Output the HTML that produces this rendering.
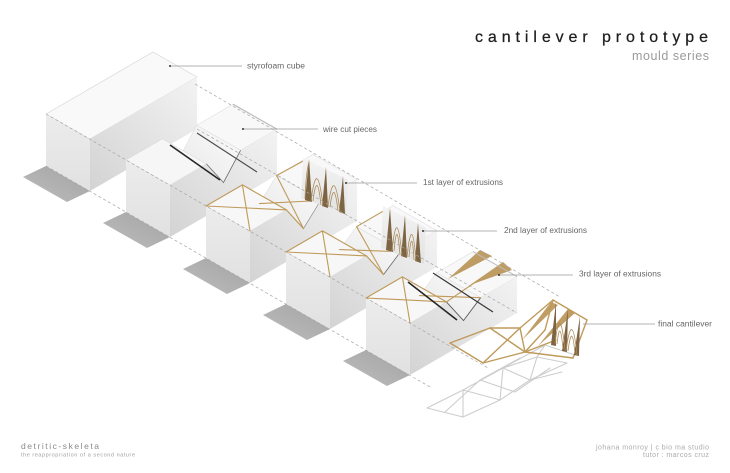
<!DOCTYPE html>
<html>
<head>
<meta charset="utf-8">
<style>
  html,body{margin:0;padding:0;background:#ffffff;}
  body{width:730px;height:473px;overflow:hidden;position:relative;}
  svg{position:absolute;left:0;top:0;}
  text{font-family:"Liberation Sans",sans-serif;}
</style>
</head>
<body>
<svg width="730" height="473" viewBox="0 0 730 473" xmlns="http://www.w3.org/2000/svg">
  <defs>
    <linearGradient id="gR" x1="0" y1="1" x2="1" y2="0">
      <stop offset="0" stop-color="#d3d3d3"/>
      <stop offset="1" stop-color="#f3f3f3"/>
    </linearGradient>
    <linearGradient id="gF" x1="0" y1="0" x2="0" y2="1">
      <stop offset="0" stop-color="#ececec"/>
      <stop offset="1" stop-color="#e1e1e1"/>
    </linearGradient>
    <linearGradient id="gS" x1="1" y1="0" x2="0" y2="1">
      <stop offset="0" stop-color="#a3a3a3"/>
      <stop offset="1" stop-color="#bdbdbd"/>
    </linearGradient>
    <linearGradient id="gW" x1="0" y1="0" x2="0" y2="1">
      <stop offset="0" stop-color="#f4f4f4"/>
      <stop offset="1" stop-color="#e2e2e2"/>
    </linearGradient>
    <linearGradient id="gB" x1="0" y1="1" x2="1" y2="0">
      <stop offset="0" stop-color="#e8e8e8"/>
      <stop offset="1" stop-color="#fbfbfb"/>
    </linearGradient>
  </defs>

  <!-- shadows -->
  <g fill="url(#gS)">
    <polygon points="46,166 23,177 67,202 90,191"/>
    <polygon points="46,166 23,177 67,202 90,191" transform="translate(80,46)"/>
    <polygon points="46,166 23,177 67,202 90,191" transform="translate(160,92)"/>
    <polygon points="46,166 23,177 67,202 90,191" transform="translate(240,138)"/>
    <polygon points="46,166 23,177 67,202 90,191" transform="translate(320,184)"/>
  </g>

  <!-- BOX 1 -->
  <g>
    <polygon points="46,114 90,139 197,77 153,52" fill="#f9f9f9" stroke="#d4d4d4" stroke-width="0.6"/>
    <polygon points="46,114 90,139 90,191 46,166" fill="url(#gF)"/>
    <polygon points="90,139 197,77 197,129 90,191" fill="url(#gR)"/>
  </g>

  <!-- BOX 2 -->
  <g transform="translate(80,46)">
    <polygon points="116.6,79.3 160.6,104.3 197,83.2 153,58.2" fill="#f8f8f8" stroke="#d4d4d4" stroke-width="0.5"/>
    <polygon points="99.5,111.6 143.5,136.6 160.6,104.3 116.6,79.3" fill="url(#gB)" stroke="#d8d8d8" stroke-width="0.5"/>
    <polygon points="46,114 90,139 126.4,117.9 82.4,92.9" fill="#f6f6f6" stroke="#d6d6d6" stroke-width="0.5"/>
    <polygon points="46,114 90,139 90,191 46,166" fill="url(#gF)"/>
    <polygon points="90,139 126.4,117.9 143.5,136.6 160.6,104.3 197,83.2 197,129 90,191" fill="url(#gR)"/>
    <polyline points="126.4,117.9 143.5,136.6 160.6,104.3" fill="none" stroke="#6a6a6a" stroke-width="0.8"/>
    <line x1="90" y1="99" x2="140" y2="134" stroke="#262626" stroke-width="1.6"/>
    <line x1="117" y1="87" x2="177" y2="126" stroke="#4a4a4a" stroke-width="1.1"/>
    <line x1="153" y1="58.2" x2="197" y2="83.2" stroke="#bdbdbd" stroke-width="1.2"/>
  </g>

  <!-- BOX 3 -->
  <g transform="translate(160,92)">
    <polygon points="116.6,83.5 160.6,108.5 197,87.4 153,62.4" fill="#f8f8f8" stroke="#d4d4d4" stroke-width="0.5"/>
    <polygon points="99.5,111.6 143.5,136.6 160.6,108.5 116.6,83.5" fill="url(#gB)" stroke="#d8d8d8" stroke-width="0.5"/>
    <polygon points="46,114 90,139 126.4,117.9 82.4,92.9" fill="#f7f7f7" stroke="#d6d6d6" stroke-width="0.5"/>
    <polygon points="46,114 90,139 90,191 46,166" fill="url(#gF)"/>
    <polygon points="90,139 126.4,117.9 143.5,136.6 160.6,108.5 197,87.4 197,129 90,191" fill="url(#gR)"/>
    <polyline points="126.4,117.9 143.5,136.6 160.6,108.5" fill="none" stroke="#8a8a8a" stroke-width="0.7"/>
    <g stroke="#bf9a5a" stroke-width="1.1" stroke-linecap="round" fill="none">
      <line x1="46" y1="114" x2="82.4" y2="92.9"/>
      <line x1="82.4" y1="92.9" x2="126.4" y2="117.9"/>
      <line x1="46" y1="114" x2="126.4" y2="117.9"/>
      <line x1="90" y1="139" x2="82.4" y2="92.9"/>
      <line x1="126.4" y1="117.9" x2="143.5" y2="136.6"/>
      <line x1="99.5" y1="111.6" x2="160.6" y2="108.5"/>
      <line x1="143.5" y1="136.6" x2="116.6" y2="83.5"/>
      <line x1="116.6" y1="83.5" x2="145" y2="68"/>
    </g>
    <polygon points="143,66 188,88 186,122 141,106" fill="url(#gW)"/>
    <g fill="#7d6443">
      <polygon points="149,67 145,108 152,110"/>
      <polygon points="166,75 162,114 168,116"/>
      <polygon points="183,84 179,120 185,122"/>
    </g>
    <g stroke="#a98a58" stroke-width="0.8" fill="none">
      <path d="M151,109 Q157,62 163,114"/>
      <path d="M153,109 Q157,76 161,113"/>
      <path d="M168,115 Q174,70 180,120"/>
      <path d="M170,115 Q174,84 178,119"/>
      <path d="M145,107 Q146,80 149,70"/>
    </g>
  </g>

  <!-- BOX 4 -->
  <g transform="translate(240,138)">
    <polygon points="116.6,88.7 160.6,113.7 197,92.6 153,67.6" fill="#f8f8f8" stroke="#d4d4d4" stroke-width="0.5"/>
    <polygon points="99.5,111.6 143.5,136.6 160.6,113.7 116.6,88.7" fill="url(#gB)" stroke="#d8d8d8" stroke-width="0.5"/>
    <polygon points="46,114 90,139 126.4,117.9 82.4,92.9" fill="#f7f7f7" stroke="#d6d6d6" stroke-width="0.5"/>
    <polygon points="46,114 90,139 90,191 46,166" fill="url(#gF)"/>
    <polygon points="90,139 126.4,117.9 143.5,136.6 160.6,113.7 197,92.6 197,129 90,191" fill="url(#gR)"/>
    <polyline points="126.4,117.9 143.5,136.6 160.6,113.7" fill="none" stroke="#6a6a6a" stroke-width="0.8"/>
    <g stroke="#bf9a5a" stroke-width="1.1" stroke-linecap="round" fill="none">
      <line x1="46" y1="114" x2="82.4" y2="92.9"/>
      <line x1="82.4" y1="92.9" x2="126.4" y2="117.9"/>
      <line x1="46" y1="114" x2="126.4" y2="117.9"/>
      <line x1="90" y1="139" x2="82.4" y2="92.9"/>
      <line x1="126.4" y1="117.9" x2="143.5" y2="136.6"/>
      <line x1="99.5" y1="111.6" x2="160.6" y2="113.7"/>
      <line x1="143.5" y1="136.6" x2="116.6" y2="88.7"/>
      <line x1="116.6" y1="88.7" x2="145" y2="72"/>
    </g>
    <polygon points="143,68 186,90 184,126 141,110" fill="url(#gW)"/>
    <g fill="#7d6443">
      <polygon points="150,70 146,112 153,114"/>
      <polygon points="165,77 161,118 167,120"/>
      <polygon points="178,85 175,123 181,125"/>
    </g>
    <g stroke="#a98a58" stroke-width="0.8" fill="none">
      <path d="M152,113 Q157,64 162,118"/>
      <path d="M154,113 Q157,78 160,117"/>
      <path d="M167,119 Q172,72 176,123"/>
      <path d="M169,119 Q172,86 174,122"/>
    </g>
  </g>

  <!-- BOX 5 -->
  <g transform="translate(320,184)">
    <polygon points="116.6,88.7 160.6,113.7 197,92.6 153,67.6" fill="#f8f8f8" stroke="#d4d4d4" stroke-width="0.5"/>
    <polygon points="99.5,111.6 143.5,136.6 160.6,113.7 116.6,88.7" fill="url(#gB)" stroke="#d8d8d8" stroke-width="0.5"/>
    <polygon points="46,114 90,139 126.4,117.9 82.4,92.9" fill="#f7f7f7" stroke="#d6d6d6" stroke-width="0.5"/>
    <polygon points="46,114 90,139 90,191 46,166" fill="url(#gF)"/>
    <polygon points="90,139 126.4,117.9 143.5,136.6 160.6,113.7 197,92.6 197,129 90,191" fill="url(#gR)"/>
    <polyline points="126.4,117.9 143.5,136.6 160.6,113.7" fill="none" stroke="#5a5a5a" stroke-width="0.9"/>
    <g fill="#b48c4a" opacity="0.85">
      <polygon points="128,95 160,66 172,72"/>
      <polygon points="150,101 183,78 192,86"/>
    </g>
    <g stroke="#bf9a5a" stroke-width="1.1" stroke-linecap="round" fill="none">
      <line x1="46" y1="114" x2="82.4" y2="92.9"/>
      <line x1="82.4" y1="92.9" x2="126.4" y2="117.9"/>
      <line x1="46" y1="114" x2="126.4" y2="117.9"/>
      <line x1="90" y1="139" x2="82.4" y2="92.9"/>
      <line x1="99.5" y1="111.6" x2="160.6" y2="113.7"/>
      <line x1="126.4" y1="117.9" x2="160" y2="95"/>
    </g>
    <line x1="88" y1="98" x2="137" y2="136" stroke="#262626" stroke-width="1.6"/>
    <line x1="113" y1="89" x2="173" y2="128" stroke="#3a3a3a" stroke-width="1.3"/>
    <line x1="153" y1="67.6" x2="197" y2="92.6" stroke="#bdbdbd" stroke-width="1"/>
  </g>

  <!-- ghost shadow lattice -->
  <g stroke="#cdcdcd" stroke-width="1.1" fill="none" stroke-linecap="round">
    <line x1="427" y1="408" x2="463" y2="390"/>
    <line x1="463" y1="390" x2="503" y2="368"/>
    <line x1="503" y1="368" x2="537" y2="357"/>
    <line x1="537" y1="357" x2="567" y2="363"/>
    <line x1="427" y1="408" x2="463" y2="417"/>
    <line x1="463" y1="417" x2="500" y2="400"/>
    <line x1="500" y1="400" x2="530" y2="380"/>
    <line x1="530" y1="380" x2="567" y2="363"/>
    <line x1="463" y1="390" x2="500" y2="400"/>
    <line x1="463" y1="417" x2="463" y2="390"/>
    <line x1="503" y1="368" x2="530" y2="380"/>
    <line x1="500" y1="400" x2="503" y2="368"/>
    <line x1="537" y1="357" x2="530" y2="380"/>
    <line x1="537" y1="357" x2="545" y2="345"/>
    <line x1="503" y1="368" x2="545" y2="345"/>
    <line x1="530" y1="380" x2="562" y2="372"/>
    <line x1="445" y1="412" x2="480" y2="380"/>
    <line x1="480" y1="380" x2="515" y2="392"/>
    <line x1="515" y1="392" x2="550" y2="368"/>
    <line x1="480" y1="380" x2="520" y2="358"/>
    <line x1="545" y1="345" x2="575" y2="355"/>
  </g>

  <!-- final cantilever -->
  <g fill="#b48c4a" opacity="0.85">
    <polygon points="522,340 551,302 558,305"/>
    <polygon points="538,346 568,309 575,313"/>
  </g>
  <g stroke="#bf9a5a" stroke-width="1.4" stroke-linecap="round" fill="none">
    <line x1="450" y1="343" x2="490" y2="328"/>
    <line x1="450" y1="343" x2="483" y2="363"/>
    <line x1="483" y1="363" x2="520" y2="328"/>
    <line x1="490" y1="328" x2="525" y2="352"/>
    <line x1="490" y1="328" x2="520" y2="328"/>
    <line x1="483" y1="363" x2="525" y2="352"/>
    <line x1="520" y1="328" x2="525" y2="352"/>
    <line x1="520" y1="328" x2="553" y2="300"/>
    <line x1="525" y1="352" x2="573" y2="358"/>
    <line x1="573" y1="358" x2="587" y2="320"/>
    <line x1="553" y1="300" x2="587" y2="320"/>
    <line x1="525" y1="352" x2="545" y2="330"/>
    <line x1="545" y1="330" x2="553" y2="300"/>
    <line x1="525" y1="352" x2="556" y2="340"/>
  </g>
  <g fill="#7d6443">
    <polygon points="556,302 551,345 556,346"/>
    <polygon points="568,309 562,351 567,352"/>
    <polygon points="580,316 574,355 579,356"/>
  </g>
  <g stroke="#a98a58" stroke-width="0.8" fill="none">
    <path d="M555,344 Q560,300 565,350"/>
    <path d="M566,351 Q572,306 577,355"/>
    <path d="M557,344 Q560,316 563,349"/>
    <path d="M568,351 Q572,320 575,354"/>
  </g>

  <!-- dashed guide lines -->
  <g stroke="#a5a5a5" stroke-width="0.7" stroke-dasharray="3,2.5" fill="none">
    <line x1="195" y1="84" x2="560" y2="297"/>
    <line x1="46" y1="114" x2="488" y2="368"/>
    <line x1="46" y1="166" x2="430" y2="387"/>
    <line x1="197" y1="129" x2="517" y2="313"/>
  </g>

  <!-- leader lines -->
  <g stroke="#9a9a9a" stroke-width="0.8">
    <line x1="170" y1="66" x2="242" y2="66"/>
    <line x1="243" y1="129" x2="318" y2="129"/>
    <line x1="346" y1="183" x2="417" y2="183"/>
    <line x1="423" y1="231" x2="497" y2="231"/>
    <line x1="499" y1="275" x2="573" y2="275"/>
    <line x1="583" y1="324" x2="655" y2="324"/>
  </g>
  <g fill="#333">
    <circle cx="170" cy="66" r="1"/>
    <circle cx="243" cy="129" r="1"/>
    <circle cx="346" cy="183" r="1"/>
    <circle cx="423" cy="231" r="1"/>
    <circle cx="499" cy="275" r="1"/>
  </g>

  <!-- labels -->
  <g font-size="8" fill="#666">
    <text x="247" y="68.5" textLength="58" lengthAdjust="spacingAndGlyphs">styrofoam cube</text>
    <text x="323" y="131.8" textLength="54" lengthAdjust="spacingAndGlyphs">wire cut pieces</text>
    <text x="423" y="185.2" textLength="80" lengthAdjust="spacingAndGlyphs">1st layer of extrusions</text>
    <text x="504" y="233.2" textLength="83" lengthAdjust="spacingAndGlyphs">2nd layer of extrusions</text>
    <text x="579" y="276.5" textLength="82" lengthAdjust="spacingAndGlyphs">3rd layer of extrusions</text>
    <text x="658" y="326.5" textLength="54" lengthAdjust="spacingAndGlyphs">final cantilever</text>
  </g>

  <!-- title -->
  <text x="475" y="42" font-size="16" fill="#1e1e1e" stroke="#1e1e1e" stroke-width="0.25" textLength="233" lengthAdjust="spacing">cantilever prototype</text>
  <text x="632" y="60" font-size="12.5" fill="#9a9a9a" textLength="77" lengthAdjust="spacing">mould series</text>

  <!-- footer -->
  <text x="21" y="449" font-size="8.5" fill="#8a8a8a" textLength="78" lengthAdjust="spacing">detritic-skeleta</text>
  <text x="21" y="456.5" font-size="5.5" fill="#a0a0a0" textLength="114" lengthAdjust="spacing">the reappropriation of a second nature</text>
  <text x="596" y="449.5" font-size="7" fill="#ababab" textLength="113" lengthAdjust="spacing">johana monroy | c bio ma studio</text>
  <text x="643" y="457" font-size="7" fill="#ababab" textLength="66" lengthAdjust="spacing">tutor : marcos cruz</text>
</svg>
</body>
</html>
